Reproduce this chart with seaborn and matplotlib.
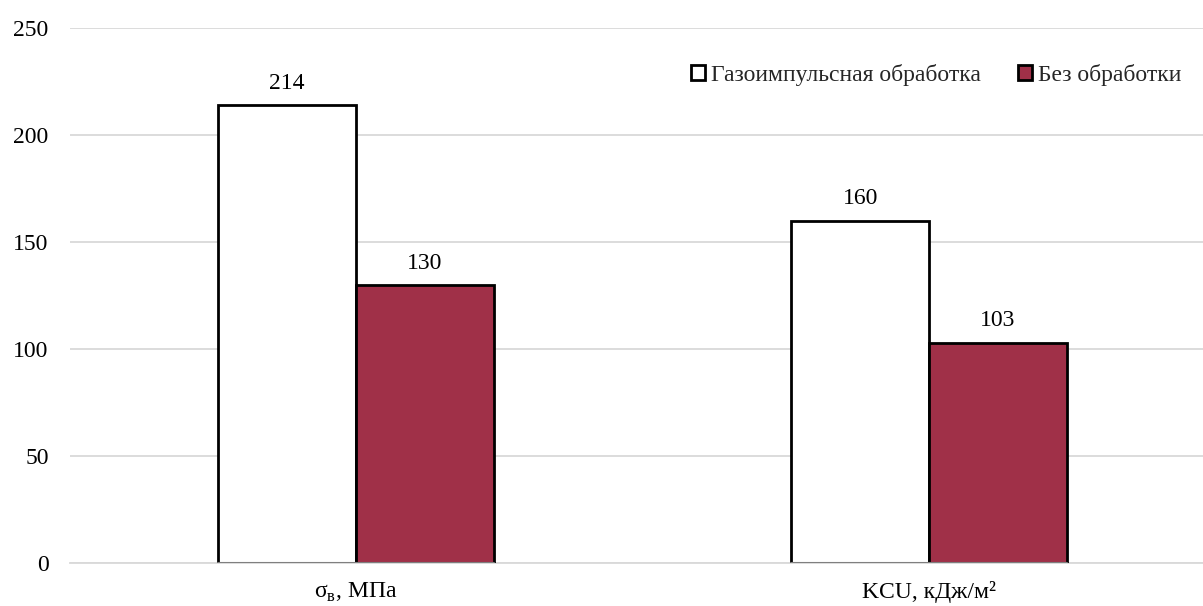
import matplotlib
matplotlib.use("Agg")
import matplotlib.pyplot as plt
from matplotlib.patches import Patch
import seaborn as sns
import pandas as pd

categories = [r"σ$_\mathregular{в}$, МПа", "KCU, кДж/м²"]
series_names = ["Газоимпульсная обработка", "Без обработки"]
treated = [214, 160]
untreated = [130, 103]
y_ticks = [0, 50, 100, 150, 200, 250]

colors = ["#FFFFFF", "#A03048"]

df = pd.DataFrame({
    "category": categories * 2,
    "series": [series_names[0]] * 2 + [series_names[1]] * 2,
    "value": treated + untreated,
})

sns.set_theme(style="white")
plt.rcParams["font.family"] = ["Liberation Serif", "DejaVu Serif"]
plt.rcParams["mathtext.fontset"] = "custom"
plt.rcParams["mathtext.rm"] = "Liberation Serif"

FS = 17
W, H = 1203, 606
fig = plt.figure(figsize=(W / 100, H / 100), dpi=100)
ax = fig.add_axes([69.5 / W, (H - 563) / H, 1146 / W, (563 - 28) / H])

BAR_W = 0.48
sns.barplot(data=df, x="category", y="value", hue="series",
            hue_order=series_names, palette=colors, width=BAR_W,
            edgecolor="black", linewidth=2, legend=False, ax=ax,
            saturation=1, zorder=3)

ax.set_xlim(-0.5, 1.5)
ax.set_ylim(0, 250)
ax.set_yticks(y_ticks)
ax.yaxis.grid(True, color="#D9D9D9", linewidth=1.3, zorder=0)
ax.set_axisbelow(True)
for s in ["top", "right", "left"]:
    ax.spines[s].set_visible(False)
ax.spines["bottom"].set_color("#D9D9D9")
ax.spines["bottom"].set_linewidth(1.3)
ax.tick_params(axis="both", length=0, labelsize=FS, colors="black")
ax.tick_params(axis="x", pad=13)
ax.tick_params(axis="y", pad=15)
ax.set_xlabel("")
ax.set_ylabel("")

for container in ax.containers:
    for bar in container:
        h = bar.get_height()
        ax.annotate(f"{h:.0f}", (bar.get_x() + bar.get_width() / 2, h),
                    xytext=(0, 8), textcoords="offset points",
                    ha="center", va="bottom", fontsize=FS, color="black",
                    bbox=dict(boxstyle="square,pad=0.25", fc="white", ec="none"),
                    zorder=5)

# darker baseline under the bars
half = BAR_W / 2
for c in range(len(categories)):
    ax.axhline(0, color="#7F7F7F", linewidth=1.5, zorder=4,
               xmin=(c - half + 0.5) / 2, xmax=(c + half + 0.5) / 2)

handles = [Patch(facecolor=c, edgecolor="black", linewidth=2) for c in colors]
leg = fig.legend(handles, series_names, loc="center left",
                 bbox_to_anchor=(679 / W, 1 - 75 / H), ncol=2, frameon=False,
                 fontsize=FS, handlelength=0.62, handleheight=0.62,
                 handletextpad=0.25, columnspacing=1.55, borderpad=0)

fig.savefig("out.png", dpi=100)
